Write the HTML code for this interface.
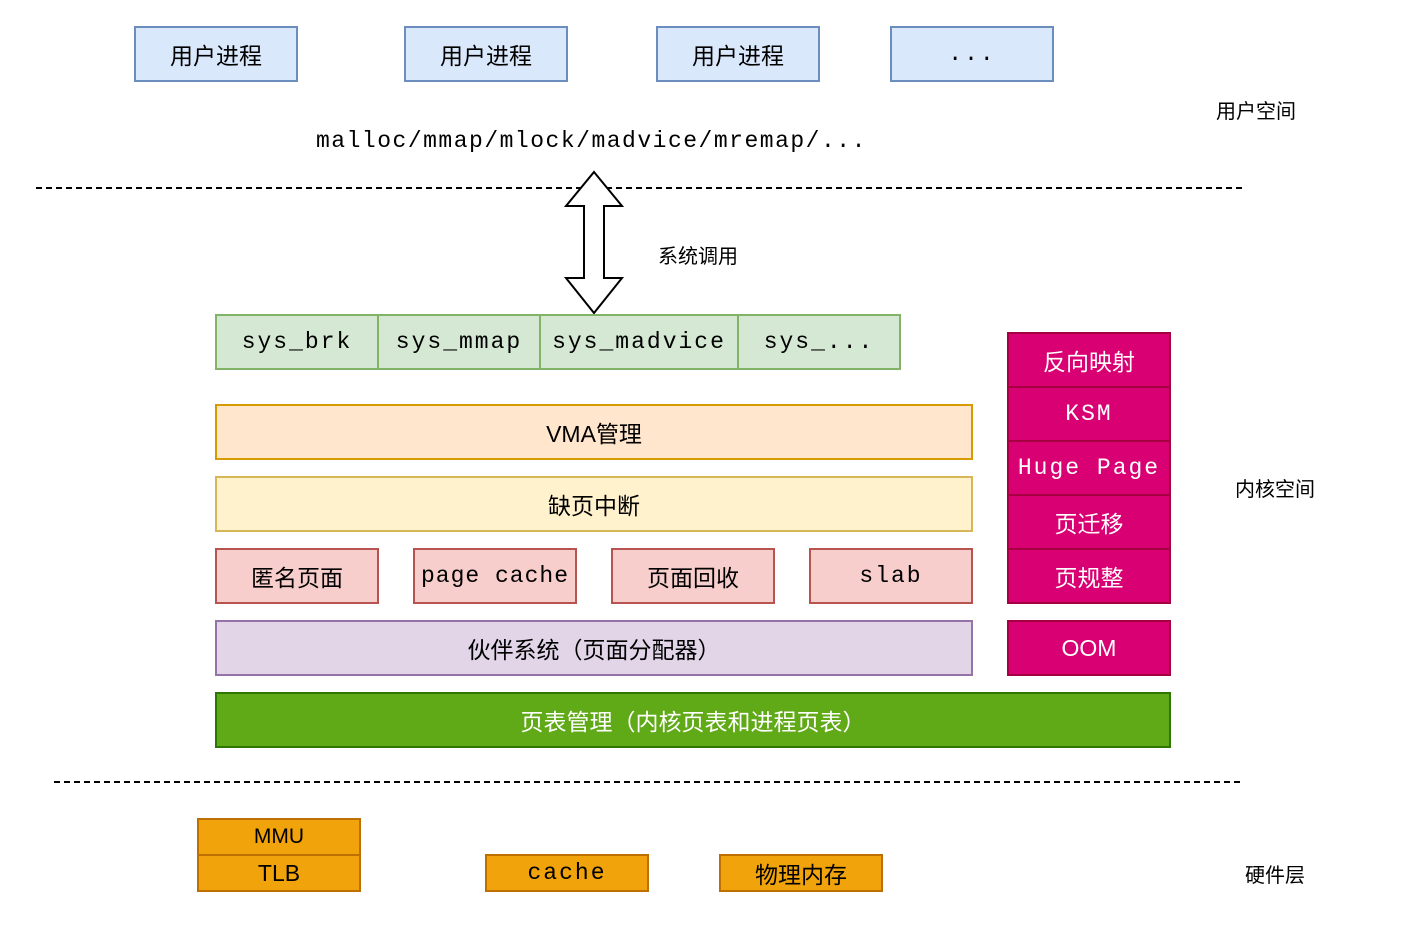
<!DOCTYPE html>
<html><head><meta charset="utf-8"><style>
body{margin:0;width:1404px;height:937px;background:#fff;position:relative;overflow:hidden;font-family:"Liberation Sans","Noto Sans CJK SC",sans-serif;}
.b{position:absolute;box-sizing:border-box;display:flex;align-items:center;justify-content:center;font-size:23px;color:#000;white-space:nowrap;border:2px solid;}
.m{font-family:"Liberation Mono","Noto Sans CJK SC",monospace;letter-spacing:2px;}
.u{background:#dae8fc;border-color:#6c8ebf;}
.g{background:#d5e8d4;border-color:#82b366;}
.o{background:#ffe6cc;border-color:#d79b00;}
.y{background:#fff2cc;border-color:#d6b656;}
.r{background:#f8cecc;border-color:#b85450;}
.p{background:#e1d5e7;border-color:#9673a6;}
.k{background:#d80073;border-color:#a50040;color:#fff;}
.h{background:#f0a30a;border-color:#bd7000;}
.t{position:absolute;font-size:20px;white-space:nowrap;}
.d{position:absolute;height:0;border-top:2px dashed #000;}
</style></head><body>
<div class="b u" style="left:134px;top:26px;width:164px;height:56px">用户进程</div>
<div class="b u" style="left:404px;top:26px;width:164px;height:56px">用户进程</div>
<div class="b u" style="left:656px;top:26px;width:164px;height:56px">用户进程</div>
<div class="b u m" style="left:890px;top:26px;width:164px;height:56px">...</div>
<div class="t" style="left:1216px;top:95px">用户空间</div>
<div class="t m" style="left:316px;top:128px;font-size:23px;letter-spacing:1.5px">malloc/mmap/mlock/madvice/mremap/...</div>
<div class="d" style="left:36px;top:187px;width:1206px"></div>
<svg style="position:absolute;left:560px;top:170px" width="70" height="148"><polygon points="34,2 62,36 44,36 44,108 62,108 34,143 6,108 24,108 24,36 6,36" fill="#fff" stroke="#000" stroke-width="2"/></svg>
<div class="t" style="left:658px;top:240px">系统调用</div>
<div class="b g m" style="left:215px;top:314px;width:164px;height:56px">sys_brk</div>
<div class="b g m" style="left:377px;top:314px;width:164px;height:56px">sys_mmap</div>
<div class="b g m" style="left:539px;top:314px;width:200px;height:56px">sys_madvice</div>
<div class="b g m" style="left:737px;top:314px;width:164px;height:56px">sys_...</div>
<div class="b o" style="left:215px;top:404px;width:758px;height:56px">VMA管理</div>
<div class="b y" style="left:215px;top:476px;width:758px;height:56px">缺页中断</div>
<div class="b r" style="left:215px;top:548px;width:164px;height:56px">匿名页面</div>
<div class="b r m" style="left:413px;top:548px;width:164px;height:56px;letter-spacing:1px">page cache</div>
<div class="b r" style="left:611px;top:548px;width:164px;height:56px">页面回收</div>
<div class="b r m" style="left:809px;top:548px;width:164px;height:56px">slab</div>
<div class="b p" style="left:215px;top:620px;width:758px;height:56px">伙伴系统（页面分配器）</div>
<div class="b" style="left:215px;top:692px;width:956px;height:56px;background:#60a917;border-color:#2d7600;color:#fff">页表管理（内核页表和进程页表）</div>
<div class="b k" style="left:1007px;top:332px;width:164px;height:56px">反向映射</div>
<div class="b k m" style="left:1007px;top:386px;width:164px;height:56px">KSM</div>
<div class="b k m" style="left:1007px;top:440px;width:164px;height:56px">Huge Page</div>
<div class="b k" style="left:1007px;top:494px;width:164px;height:56px">页迁移</div>
<div class="b k" style="left:1007px;top:548px;width:164px;height:56px">页规整</div>
<div class="b k" style="left:1007px;top:620px;width:164px;height:56px">OOM</div>
<div class="t" style="left:1235px;top:473px">内核空间</div>
<div class="d" style="left:54px;top:781px;width:1186px"></div>
<div class="b h" style="left:197px;top:818px;width:164px;height:38px;font-size:21px">MMU</div>
<div class="b h" style="left:197px;top:854px;width:164px;height:38px">TLB</div>
<div class="b h m" style="left:485px;top:854px;width:164px;height:38px">cache</div>
<div class="b h" style="left:719px;top:854px;width:164px;height:38px">物理内存</div>
<div class="t" style="left:1245px;top:859px">硬件层</div>
</body></html>
